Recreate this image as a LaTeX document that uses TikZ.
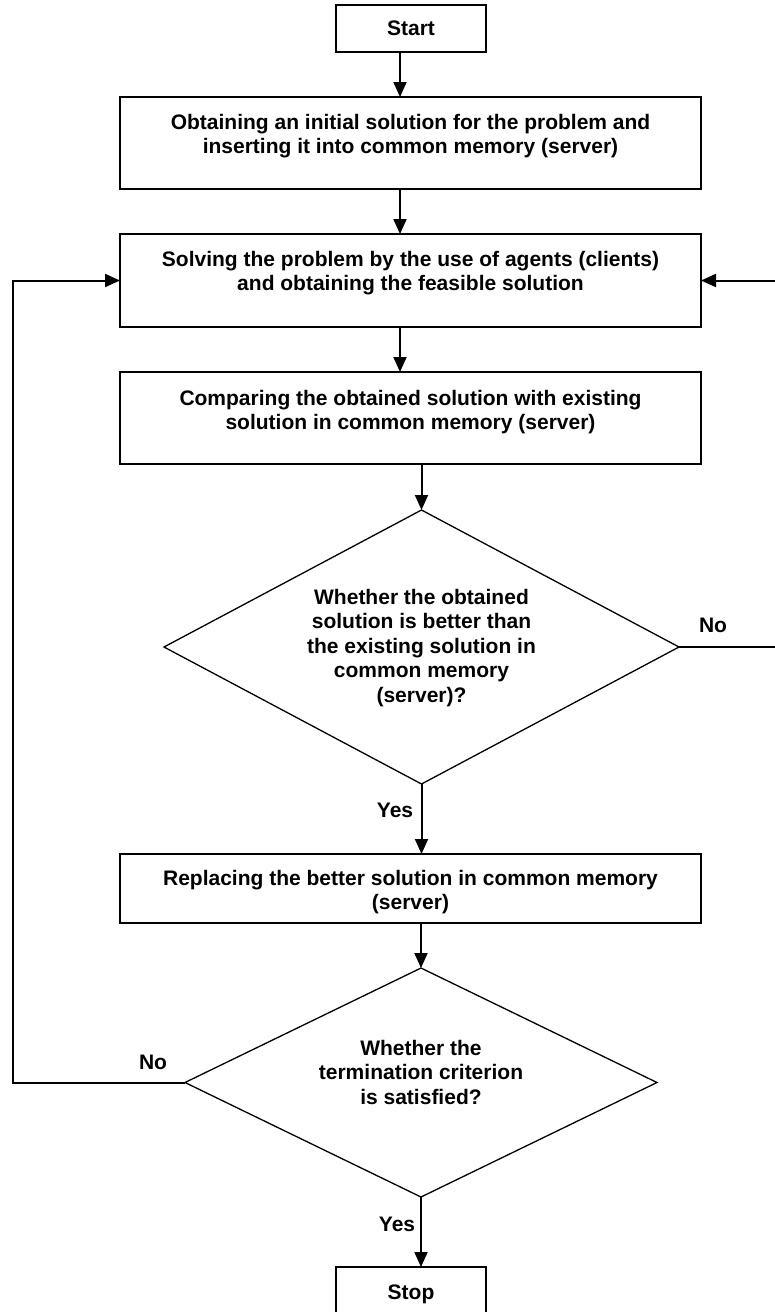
\documentclass[tikz,border=0pt]{standalone}
\usepackage{fontspec}
\setmainfont{Liberation Sans}
\usetikzlibrary{arrows.meta,shapes.geometric}
\begin{document}
\begin{tikzpicture}[x=1pt,y=-1pt,
  every node/.style={font=\fontsize{21pt}{24.5pt}\selectfont\bfseries},
  procbox/.style={draw,line width=2pt,rectangle,inner sep=0pt,outer sep=0pt},
  decbox/.style={draw,line width=1.3pt,diamond,inner sep=0pt,outer sep=0pt},
  txt/.style={align=center,inner sep=0pt},
  arr/.style={line width=2pt,-{Triangle[length=15pt,width=13pt]}},
  ln/.style={line width=2pt}]
\useasboundingbox[fill=white] (0,0) rectangle (774,1312);

% boxes
\node[procbox,minimum width=150.5pt,minimum height=47pt] (start) at (411,28.5) {};
\node[txt] (starttxt) at (411,28.5) {Start};

\node[procbox,minimum width=581pt,minimum height=92pt] (box1) at (410.5,143) {};
\node[txt] (box1txt) at (410.5,136) {Obtaining an initial solution for the problem and\\inserting it into common memory (server)};

\node[procbox,minimum width=581pt,minimum height=93pt] (box2) at (410.5,280.5) {};
\node[txt] (box2txt) at (410.5,273) {Solving the problem by the use of agents (clients)\\and obtaining the feasible solution};

\node[procbox,minimum width=581pt,minimum height=92pt] (box3) at (410.5,418) {};
\node[txt] (box3txt) at (410.5,412) {Comparing the obtained solution with existing\\solution in common memory (server)};

\node[decbox,minimum width=515pt,minimum height=274pt] (d1) at (421.5,647) {};
\node[txt] (d1txt) at (421.5,648) {Whether the obtained\\solution is better than\\the existing solution in\\common memory\\(server)?};

\node[procbox,minimum width=581pt,minimum height=69pt] (box4) at (410.5,888.5) {};
\node[txt] (box4txt) at (410.5,892) {Replacing the better solution in common memory\\(server)};

\node[decbox,minimum width=472pt,minimum height=229pt] (d2) at (421,1082.5) {};
\node[txt] (d2txt) at (421,1072) {Whether the\\termination criterion\\is satisfied?};

\node[procbox,minimum width=150pt,minimum height=45.5pt] (stop) at (411,1289.75) {};
\node[txt] (stoptxt) at (411,1294) {Stop};

% labels
\node[txt] (no1) at (713,625) {No};
\node[txt] (yes1) at (395,810) {Yes};
\node[txt] (no2) at (153,1062) {No};
\node[txt] (yes2) at (397,1224) {Yes};

% helper coordinates for the loop-back lines
\coordinate (lx) at (13,0);
\coordinate (rx) at (782,0);

% connectors
\draw[arr] ([xshift=-11pt]start.south) -- ([xshift=-11pt]start.south |- box1.north);
\draw[arr] ([xshift=-10.5pt]box1.south) -- ([xshift=-10.5pt]box1.south |- box2.north);
\draw[arr] ([xshift=-10.5pt]box2.south) -- ([xshift=-10.5pt]box2.south |- box3.north);
\draw[arr] (d1.north |- box3.south) -- (d1.north);
\draw[arr] (d1.south) -- (d1.south |- box4.north);
\draw[arr] (d2.north |- box4.south) -- (d2.north);
\draw[arr] (d2.south) -- (d2.south |- stop.north);
\draw[arr] (d1.east) -- (rx |- d1.east) |- (box2.east);
\draw[arr] (d2.west) -- (lx |- d2.west) |- (box2.west);
\end{tikzpicture}
\end{document}
